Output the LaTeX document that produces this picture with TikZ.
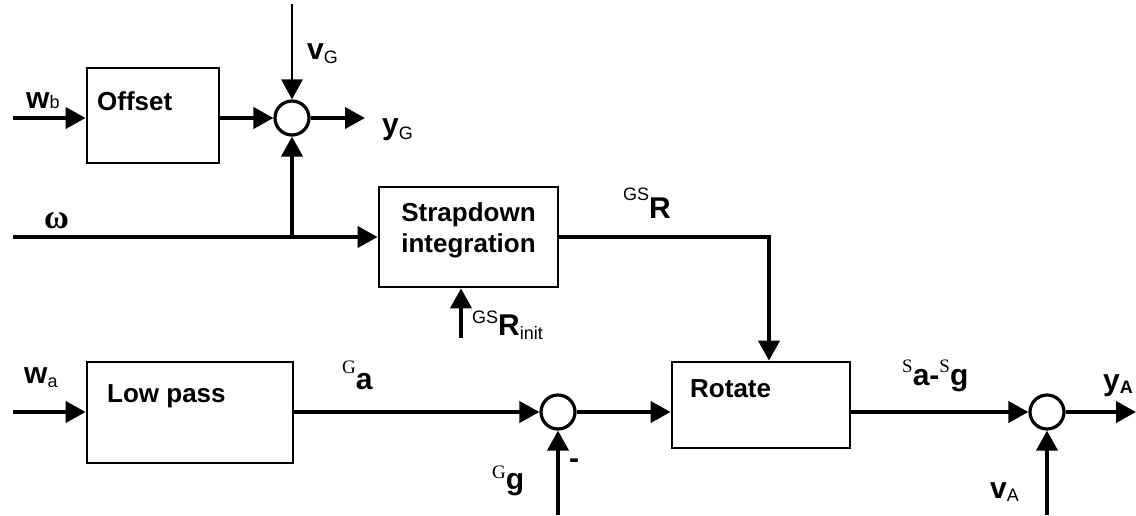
\documentclass[tikz,border=0pt]{standalone}
\usepackage{fontspec}
\setmainfont{Liberation Sans}
\newfontfamily\timesfont{Liberation Serif}
\usetikzlibrary{arrows.meta,positioning,calc}

\newcommand{\subtx}[2][3pt]{\raisebox{-#1}{\fontsize{18}{18}\selectfont\mdseries #2}}
\newcommand{\suptx}[2][14pt]{\raisebox{#1}{\fontsize{18}{18}\selectfont\mdseries #2}}
\newcommand{\romsup}[2][14pt]{\raisebox{#1}{\fontsize{19}{19}\selectfont\mdseries\timesfont #2}}

\begin{document}
\begin{tikzpicture}[
  x=1pt, y=-1pt,
  block/.style={draw, line width=2.8pt, inner sep=0pt},
  blocktext/.style={font=\fontsize{26}{31}\selectfont\bfseries, inner sep=0pt, anchor=base west},
  sumnode/.style={draw, circle, line width=3.2pt, minimum size=34pt, inner sep=0pt},
  signal/.style={font=\fontsize{30}{34}\selectfont\bfseries, inner sep=0pt, anchor=base west},
  arrow/.style={-{Triangle[length=20pt,width=21pt]}, line width=4pt},
  thinarrow/.style={-{Triangle[length=20pt,width=21pt]}, line width=2.6pt}
]
\useasboundingbox (0,0) rectangle (1136,515);

% blocks
\node[block, minimum width=132pt, minimum height=95pt] (offset) at (153,115.5) {};
\node[block, minimum width=179pt, minimum height=100pt] (strap) at (468.5,237) {};
\node[block, minimum width=206pt, minimum height=101pt] (lowpass) at (190,412.5) {};
\node[block, minimum width=178pt, minimum height=86pt] (rotate) at (761,405) {};

\node[blocktext] (offsettxt) at (97,110) {Offset};
\node[blocktext, align=center, anchor=north] (straptxt) at (468.5,202) {Strapdown\\integration};
\node[blocktext] (lowpasstxt) at (107,402) {Low pass};
\node[blocktext] (rotatetxt) at (690,397) {Rotate};

% summing points
\node[sumnode] (sumG) at (292,118) {};
\node[sumnode] (sumg) at (558,412) {};
\node[sumnode] (sumA) at (1047,412) {};

% free ends
\coordinate (wbin) at (13,118);
\coordinate (vGin) at (292,4);
\coordinate (yGout) at (365,118);
\coordinate (omin) at (13,237);
\coordinate (omjoin) at (292,237);
\coordinate (rturn) at (769,237);
\coordinate (rinit) at (461,338);
\coordinate (wain) at (13,412);
\coordinate (ggin) at (558,515);
\coordinate (vAin) at (1047,515);
\coordinate (yAout) at (1136,412);

% connectors
\draw[arrow] (wbin) -- (wbin -| offset.west);
\draw[arrow] (offset.east |- sumG) -- (sumG);
\draw[thinarrow] (vGin) -- (sumG);
\draw[arrow] (sumG) -- (yGout);
\draw[arrow] (omin) -- (strap.west);
\draw[arrow] (omjoin) -- (sumG);
\draw[arrow] (strap.east) -- (rturn) -- (rturn |- rotate.north);
\draw[arrow] (rinit) -- (rinit |- strap.south);
\draw[arrow] (wain) -- (wain -| lowpass.west);
\draw[arrow] (lowpass.east |- sumg) -- (sumg);
\draw[arrow] (ggin) -- (sumg);
\draw[arrow] (sumg) -- (sumg -| rotate.west);
\draw[arrow] (rotate.east |- sumA) -- (sumA);
\draw[arrow] (vAin) -- (sumA);
\draw[arrow] (sumA) -- (yAout);

% signal labels
\node[signal] (wblbl) at (26,108) {w\subtx[0pt]{b}};
\node[signal] (vGlbl) at (307,59) {v\subtx[4pt]{G}};
\node[signal] (yGlbl) at (382,134) {y\subtx[5pt]{G}};
\node[signal, font=\fontsize{34}{36}\selectfont\bfseries\timesfont] (omlbl) at (44,228) {ω};
\node[signal] (Rlbl) at (623,218) {\suptx[18pt]{GS}R};
\node[signal] (Rinitlbl) at (472,335) {\suptx[12pt]{GS}R\subtx[4pt]{init}};
\node[signal] (walbl) at (24,383) {w\subtx[4pt]{a}};
\node[signal] (Galbl) at (342,389) {\romsup[16pt]{G}a};
\node[signal] (Gglbl) at (492,489) {\romsup[11pt]{G}g};
\node[signal, anchor=center] (minuslbl) at (574,464) {-};
\node[signal] (Salbl) at (902,385) {\romsup[13pt]{S}a-\romsup[13pt]{S}g};
\node[signal] (yAlbl) at (1103,390) {y\raisebox{-3pt}{\fontsize{18}{18}\selectfont A}};
\node[signal] (vAlbl) at (990,498) {v\subtx[3pt]{A}};
\end{tikzpicture}
\end{document}
